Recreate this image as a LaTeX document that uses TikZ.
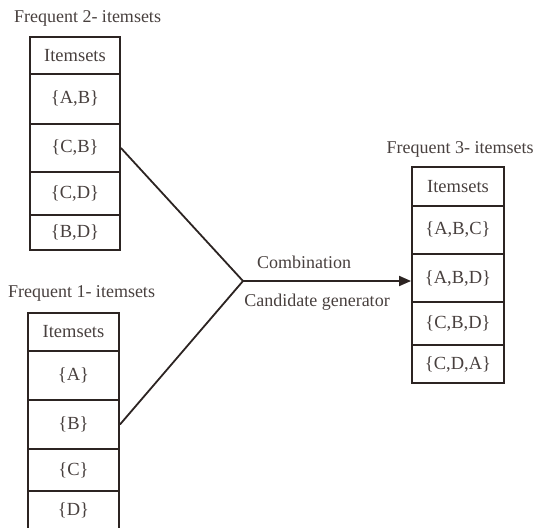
\documentclass[tikz,border=0pt]{standalone}
\usepackage{fontspec}
\setmainfont{Liberation Serif}
\usetikzlibrary{arrows.meta}

\definecolor{inkline}{RGB}{44,36,34}
\definecolor{inktext}{RGB}{72,64,62}

\tikzset{
	cell/.style={draw=inkline, line width=1.9pt, minimum width=#1, inner sep=0pt,
		text=inktext, font=\fontsize{18.5}{20}\selectfont},
	title/.style={text=inktext, font=\fontsize{18}{20}\selectfont, inner sep=0pt},
	link/.style={draw=inkline, line width=1.8pt}
}

\begin{document}
\begin{tikzpicture}[x=1pt, y=-1pt]
			\useasboundingbox (0, 0) rectangle (537, 527);
			
			\node[title] (title2) at (87.5, 18) {Frequent 2- itemsets};
			\node[title] (title1) at (81.5, 293) {Frequent 1- itemsets};
			\node[title] (title3) at (460, 149) {Frequent 3- itemsets};
			
			% frequent 2-itemsets
			\foreach \txt/\ya/\yb [count=\i] in {Itemsets/37/74, {\{A,B\}}/74/124,
				{\{C,B\}}/124/172, {\{C,D\}}/172/215, {\{B,D\}}/215/250}
			\node[cell=90pt, minimum height=\yb-\ya] (fa-\i) at (75, {(\ya+\yb)/2}) {\txt};
			
			% frequent 1-itemsets
			\foreach \txt/\ya/\yb [count=\i] in {Itemsets/313/351, {\{A\}}/351/400,
				{\{B\}}/400/449, {\{C\}}/449/491, {\{D\}}/491/530}
			\node[cell=91pt, minimum height=\yb-\ya] (fb-\i) at (73.5, {(\ya+\yb)/2}) {\txt};
			
			% frequent 3-itemsets
			\foreach \txt/\ya/\yb [count=\i] in {Itemsets/167/206, {\{A,B,C\}}/206/254,
				{\{A,B,D\}}/254/302, {\{C,B,D\}}/302/345, {\{C,D,A\}}/345/383}
			\node[cell=92pt, minimum height=\yb-\ya] (fc-\i) at (458, {(\ya+\yb)/2}) {\txt};
			
			\coordinate (join) at (243, 281);
			\draw[link] (fa-3.east) -- (join) -- (fb-3.east);
			\draw[link, -{Triangle[length=12pt, width=10pt]}] (join) -- (join -| fc-3.west);
			
			\node[title] (comb) at (304, 262) {Combination};
			\node[title] (cand) at (317, 302) {Candidate generator};
\end{tikzpicture}
\end{document}
